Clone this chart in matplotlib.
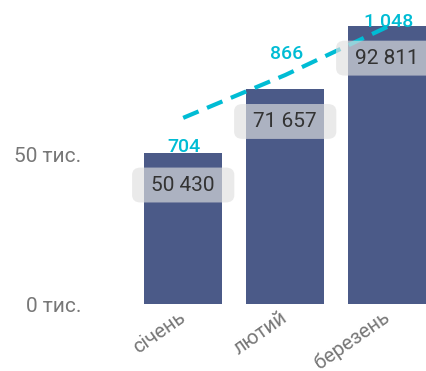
import matplotlib
matplotlib.use("Agg")
from matplotlib import pyplot as plt
from matplotlib.patches import FancyBboxPatch
from matplotlib.transforms import ScaledTranslation
import numpy as np

# дані
months = ["січень", "лютий", "березень"]
sales = [50430, 71657, 92811]
counts = [704, 866, 1048]
sales_labels = ["50 430", "71 657", "92 811"]
count_labels = ["704", "866", "1 048"]
y_ticks = [0, 50000]
y_tick_labels = ["0 тис.", "50 тис."]

bar_color = "#4b5a88"
line_color = "#00bcd4"

plt.rcParams['font.family'] = ['Roboto', 'DejaVu Sans']

fig = plt.figure(figsize=(4.27, 3.71), dpi=100)
W, H = 427, 371
ax = fig.add_axes([122 / W, 67 / H, 306 / W, 294 / H])
ax2 = ax.twinx()

x = np.arange(len(months))
ax.bar(x, sales, width=0.765, color=bar_color, zorder=1)
ax.set_xlim(-0.6, 2.4)
ax.set_ylim(0, 98200)
ax.set_yticks(y_ticks)
ax.set_yticklabels(y_tick_labels, fontsize=15, color="#777777")
ax.set_xticks(x)
ax.set_xticklabels(months, fontsize=14.5, color="#777777", rotation=35,
                   ha="right", va="center", rotation_mode="anchor")
shift = ScaledTranslation(-5 / 100, 1 / 100, fig.dpi_scale_trans)
for t in ax.get_xticklabels():
    t.set_transform(t.get_transform() + shift)
ax.tick_params(axis="y", length=0, pad=29)
ax.tick_params(axis="x", length=0, pad=8)
for s in ax.spines.values():
    s.set_visible(False)

# лінія на другій осі
ax2.plot(x, counts, color=line_color, lw=3, linestyle=(0, (4, 2.2)), zorder=2)
ax2.set_ylim(0, 1112)
ax2.set_yticks([])
for s in ax2.spines.values():
    s.set_visible(False)
ax2.set_xlim(-0.6, 2.4)

# підписи лінії
offsets = [-29, 21, 5]
for xi, c, lab, off in zip(x, counts, count_labels, offsets):
    ax2.annotate(lab, (xi, c), xytext=(1, off), textcoords="offset pixels",
                 ha="center", va="center", fontsize=14, fontweight="medium",
                 color=line_color, zorder=5)

# підписи стовпців з сірими плашками
for xi, v, lab in zip(x, sales, sales_labels):
    yc = ax.transData.transform((xi, v))[1] - 32
    xc = ax.transData.transform((xi, v))[0]
    fx, fy = xc / W, yc / H
    box = FancyBboxPatch((fx - 46 / W, fy - 13 / H), 92 / W, 26 / H,
                         boxstyle="round,pad=0.012,rounding_size=0.02",
                         transform=fig.transFigure, facecolor="#e0e0e0",
                         alpha=0.66, edgecolor="none", zorder=10)
    fig.patches.append(box)
    fig.text(fx, fy, lab, ha="center", va="center", fontsize=15,
             color="#333333", zorder=11)

plt.savefig("out.png", dpi=100)
